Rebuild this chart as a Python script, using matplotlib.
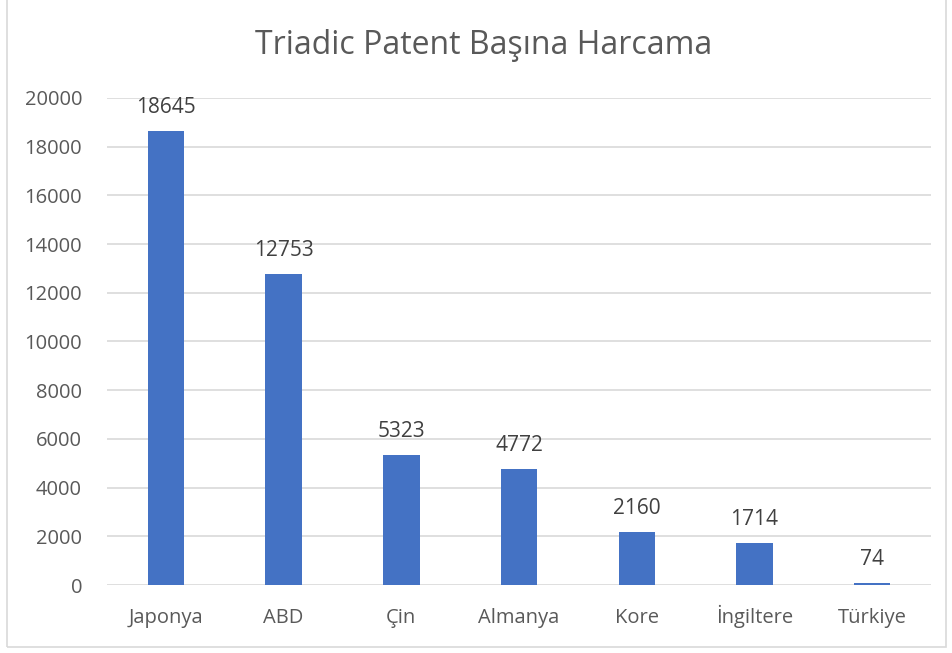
import matplotlib.pyplot as plt
from matplotlib.patches import Rectangle

ulkeler = ['Japonya', 'ABD', 'Çin', 'Almanya', 'Kore', 'İngiltere', 'Türkiye']
harcama = [18645, 12753, 5323, 4772, 2160, 1714, 74]
y_ticks = [0, 2000, 4000, 6000, 8000, 10000, 12000, 14000, 16000, 18000, 20000]

plt.rcParams['font.family'] = ['Open Sans', 'DejaVu Sans']
text_color = '#595959'

fig = plt.figure(figsize=(9.52, 6.53), dpi=100)
ax = fig.add_axes([0.1124, 0.1041, 0.8656, 0.7459])

x = range(len(ulkeler))
bars = ax.bar(x, harcama, width=0.31, color='#4472C4', zorder=3)

# değer etiketleri
for xi, v in zip(x, harcama):
    ax.annotate(str(v), (xi, v), xytext=(0, 13), textcoords='offset points',
                ha='center', va='baseline', fontsize=15, color='#404040')

ax.set_xlim(-0.5, len(ulkeler) - 0.5)
ax.set_ylim(0, 20000)
ax.set_yticks(y_ticks)
ax.set_xticks(list(x))
ax.set_xticklabels(ulkeler, va='baseline')
ax.tick_params(axis='both', length=0, labelsize=14.5, labelcolor=text_color)
ax.tick_params(axis='x', pad=27)
ax.tick_params(axis='y', pad=18)
ax.grid(axis='y', color='#D9D9D9', linewidth=1.2, zorder=0)
for s in ax.spines.values():
    s.set_visible(False)

fig.text(0.508, 0.93, 'Triadic Patent Başına Harcama', ha='center', va='center',
         fontsize=23, color=text_color)

# grafik çerçevesi
fig.patches.append(Rectangle((0.0074, 0.009), 0.986, 1.2, transform=fig.transFigure,
                             fill=False, edgecolor='#D9D9D9', linewidth=1.2))

fig.savefig('out.png', dpi=100)
